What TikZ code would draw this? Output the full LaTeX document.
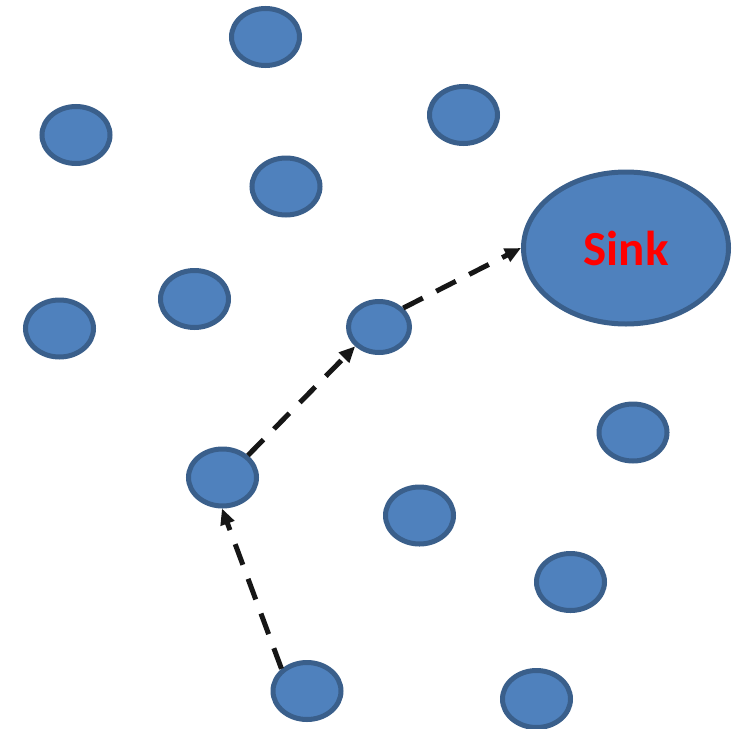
\documentclass[tikz,border=0pt]{standalone}
\usepackage{fontspec}
\setmainfont{Carlito}
\usetikzlibrary{shapes.geometric,arrows.meta}
\definecolor{nodefill}{HTML}{4F81BD}
\definecolor{nodeline}{HTML}{3A5F8B}
\definecolor{arrowcol}{HTML}{161616}
\tikzset{
  sensor/.style={ellipse,draw=nodeline,fill=nodefill,line width=5pt,inner sep=0pt,minimum width=68pt,minimum height=57pt},
  smallsensor/.style={sensor,minimum width=61pt,minimum height=51pt},
  sinknode/.style={sensor,minimum width=205pt,minimum height=152pt,text=red,font=\fontsize{49}{50}\selectfont\bfseries},
  hop/.style={draw=arrowcol,line width=5pt,dash pattern=on 22pt off 15pt,-{Triangle[length=16pt,width=14pt]}}
}
\begin{document}
\begin{tikzpicture}[x=1pt,y=-1pt]
\useasboundingbox (0,0) rectangle (746,728);
\fill[white] (0,0) rectangle (746,728);
\node[sensor] (n1) at (265.5,37) {};
\node[sensor] (n2) at (76,135) {};
\node[sensor] (n3) at (463.5,115) {};
\node[sensor] (n4) at (286,186.5) {};
\node[sensor] (n5) at (194.5,299) {};
\node[sensor] (n6) at (59.5,328.5) {};
\node[smallsensor] (n7) at (379,327) {};
\node[sinknode] (sink) at (626,248) {Sink};
\node[sensor] (n9) at (633,432.5) {};
\node[sensor] (n10) at (222.5,477.5) {};
\node[sensor] (n11) at (419.5,515.5) {};
\node[sensor] (n12) at (570.5,582) {};
\node[sensor] (n13) at (307,691) {};
\node[sensor] (n14) at (536.5,699) {};
\draw[hop] (n13.139) -- (n10.-91);
\draw[hop] (n10.41) -- (n7.219);
\draw[hop] (n7.38) -- (sink.180);
\end{tikzpicture}
\end{document}
